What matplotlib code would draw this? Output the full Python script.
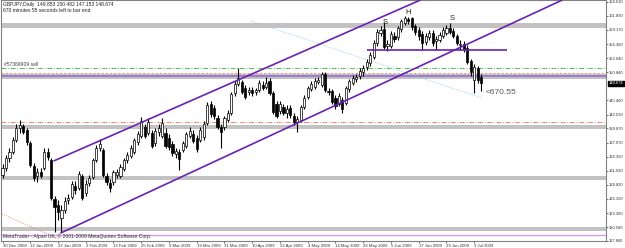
import matplotlib
matplotlib.use("Agg")
import matplotlib.pyplot as plt
import matplotlib.transforms as mtransforms

# ---------------- data ----------------
opens = [130.77,132.14,134.10,135.27,137.62,139.96,140.35,139.57,137.03,132.53,
         130.57,131.36,132.14,135.27,133.70,126.08,124.90,122.36,123.92,125.88,
         126.47,128.62,128.23,130.57,127.25,129.21,130.38,133.70,136.05,135.66,
         130.57,129.21,129.40,130.77,130.57,131.94,133.70,134.49,135.27,137.22,
         138.40,140.16,138.99,138.99,137.03,139.18,138.40,138.99,138.01,136.83,
         134.88,135.27,135.66,136.44,138.40,138.79,138.01,137.62,138.20,140.94,
         144.66,143.88,141.92,140.16,140.16,141.53,142.90,146.81,148.57,148.96,
         147.79,147.00,147.40,147.00,147.40,148.37,147.98,149.16,146.81,144.66,
         143.29,144.07,142.90,143.88,142.31,141.14,141.53,144.07,146.03,147.59,
         147.98,148.96,148.37,150.53,147.20,147.20,145.83,144.66,145.44,144.85,
         147.59,148.77,149.55,150.13,150.92,151.89,152.68,153.85,156.59,158.55,
         159.33,156.00,156.00,157.96,157.76,159.33,160.50,161.28,161.48,159.91,
         159.13,158.35,156.78,157.76,158.55,156.98,157.18,157.96,158.55,159.52,
         158.94,157.96,156.20,156.39,155.61,153.07,149.35,151.70,149.853]
highs = [132.92,134.68,136.05,138.20,140.75,141.53,140.75,139.96,137.42,133.12,
         132.14,132.14,136.05,136.05,134.10,126.66,125.88,124.90,126.47,127.05,
         129.60,129.60,131.55,130.97,129.79,130.77,134.10,136.64,137.81,136.05,
         131.16,129.99,131.75,131.94,132.92,134.10,135.27,136.64,138.01,139.38,
         142.11,140.75,141.92,139.57,139.96,140.75,141.92,139.96,138.79,137.42,
         136.05,135.86,137.42,139.18,140.16,139.57,138.59,140.16,141.33,145.05,
         145.24,144.46,142.51,140.75,142.31,143.48,147.00,149.16,151.70,149.35,
         148.37,147.98,147.98,147.79,149.35,149.16,149.94,149.74,147.20,145.24,
         145.24,144.66,144.46,144.46,142.90,142.31,144.46,146.42,148.18,149.16,
         149.74,149.94,150.92,150.92,147.79,147.59,146.42,146.81,146.03,148.18,
         149.55,150.33,150.53,151.70,152.29,153.46,154.83,157.18,159.33,159.91,
         160.70,157.18,158.94,158.74,159.91,161.28,161.87,161.67,161.67,160.31,
         159.72,158.94,158.55,159.13,159.13,157.96,158.74,159.72,160.11,160.50,
         159.52,158.35,157.18,156.98,156.20,153.46,152.48,152.09,150.482]
lows = [130.18,131.55,133.31,134.88,137.22,138.99,138.79,136.64,132.33,129.60,
        129.40,130.18,131.75,133.70,125.88,119.62,121.97,119.62,123.34,125.10,
        126.08,127.05,127.84,125.88,126.66,128.62,129.99,133.31,135.46,130.38,
        128.81,127.44,128.81,130.18,130.18,131.55,133.12,134.10,134.88,136.64,
        138.01,138.01,138.59,136.05,136.44,138.40,138.01,136.05,135.66,134.49,
        134.10,131.75,135.27,136.05,138.01,137.03,135.27,137.22,137.62,140.55,
        142.11,141.72,139.77,136.05,139.57,141.14,142.51,146.22,148.18,146.61,
        145.64,146.42,146.22,146.42,147.00,147.40,147.59,146.42,142.70,141.92,
        142.70,142.51,141.92,141.92,140.55,139.18,141.14,143.68,145.64,147.20,
        147.59,148.57,147.98,147.00,146.42,144.66,143.68,144.27,142.90,144.46,
        147.00,148.37,148.96,149.55,150.13,151.31,152.09,153.46,156.00,157.96,
        155.42,155.02,155.61,156.78,157.18,158.74,160.11,160.31,159.13,158.15,
        157.18,155.22,156.20,157.18,156.00,155.22,156.78,157.57,158.15,158.35,
        157.57,156.20,155.22,154.83,152.48,150.13,146.81,148.77,147.153]
closes = [132.14,134.10,135.27,137.62,139.96,140.55,139.18,137.22,132.73,130.18,
          131.36,130.57,135.27,134.29,126.27,124.51,123.53,123.92,125.68,126.27,
          129.01,127.84,130.97,126.27,129.01,130.18,133.70,136.05,136.83,130.77,
          129.40,128.23,131.36,131.36,132.33,133.70,134.68,136.05,137.62,138.79,
          141.33,138.40,141.14,136.44,139.38,139.96,140.94,136.44,136.25,135.07,
          135.46,133.90,137.03,138.79,139.38,137.42,135.86,139.57,140.75,144.46,
          142.70,142.31,140.16,139.18,141.92,142.90,146.61,148.57,149.74,147.00,
          146.03,147.40,146.81,147.40,148.77,147.79,148.77,146.81,143.09,142.31,
          144.66,142.90,143.68,142.51,141.14,141.72,144.07,145.83,147.79,148.57,
          149.16,149.35,150.53,147.40,147.00,145.05,144.27,146.22,143.68,147.79,
          149.16,149.74,149.94,151.11,151.70,152.87,154.24,156.59,158.74,159.13,
          155.81,156.39,158.35,157.37,159.52,160.89,161.48,160.89,159.72,158.74,
          157.96,156.59,157.96,158.55,156.59,157.37,158.15,159.13,159.52,158.74,
          157.96,156.59,156.39,155.42,152.87,150.92,151.89,149.35,148.674]

date_labels = ["30 Dec 2008", "12 Jan 2009", "22 Jan 2009", "3 Feb 2009", "13 Feb 2009",
               "25 Feb 2009", "9 Mar 2009", "19 Mar 2009", "31 Mar 2009", "10 Apr 2009",
               "22 Apr 2009", "4 May 2009", "14 May 2009", "26 May 2009", "5 Jun 2009",
               "17 Jun 2009", "29 Jun 2009", "9 Jul 2009"]
date_label_bars = [0, 8, 16, 24, 32, 40, 48, 56, 64, 72, 80, 88, 96, 104, 112, 120, 128, 136]

price_ticks = [164.610, 161.890, 159.170, 156.360, 153.640, 150.840, 145.400, 142.590,
               139.870, 137.070, 134.350, 131.630, 128.820, 126.100, 123.300, 120.580, 117.860]

# support / resistance zones (price ranges)
zones = [(159.5, 160.5), (149.6, 150.6), (139.8, 140.6), (129.8, 130.6), (119.8, 120.6)]

# trend lines: (bar index, price) pairs
channel_upper = [(14.7, 133.5), (120.5, 165.0)]
channel_lower = [(16.7, 119.4), (161.4, 165.0)]
neckline = [(105.2, 155.2), (145.5, 155.2)]
dotted_blue = [(71.5, 160.9), (138.3, 145.8)]
dotted_red = [(-0.6, 123.3), (16.1, 118.3)]

purple_level = 150.13
order_level = 151.70
stop_level = 150.80
red_level = 141.20
pink_level = 118.94

pattern_labels = [("S", 110.4, 159.9), ("H", 117.0, 161.9), ("S", 129.7, 160.7)]
last_price = 148.674

# ---------------- figure ----------------
W, H = 625, 248
AX_R = 606
fig = plt.figure(figsize=(W / 100, H / 100), dpi=100)
fig.patch.set_facecolor("white")
ax = fig.add_axes([0.5 / W, (H - 241) / H, (AX_R - 0.5) / W, 241 / H])
ax.set_facecolor("white")
ax.set_xlim(-0.58, 174.0)
ax.set_ylim(117.86, 165.0)

fam = ["Liberation Sans", "DejaVu Sans"]

# zones
for lo, hi in zones:
    ax.axhspan(lo, hi, color="#c2c2c2", lw=0, zorder=1)

# horizontal levels
ax.axhline(purple_level, color="#9a6fd0", lw=1.2, zorder=2)
ax.axhline(order_level, color="#33bb33", lw=0.6, ls=(0, (6, 2, 1, 2)), zorder=2)
ax.axhline(stop_level, color="#f08a70", lw=0.6, ls=(0, (3, 2)), zorder=2)
ax.axhline(red_level, color="#f07060", lw=0.6, ls=(0, (6, 2, 1, 2)), zorder=2)
ax.axhline(pink_level, color="#d79be8", lw=1.0, zorder=2)

# dotted lines
ax.plot(*zip(*dotted_blue), color="#7fc8e0", lw=0.6, ls=(0, (1, 1.5)), zorder=2)
ax.plot(*zip(*dotted_red), color="#f07060", lw=0.6, ls=(0, (1, 1.5)), zorder=2)

# candles
n = len(closes)
idx = list(range(n))
ax.vlines(idx, lows, highs, color="black", lw=0.8, zorder=3)
for i in idx:
    o, c = opens[i], closes[i]
    bottom = min(o, c)
    height = max(abs(c - o), 0.08)
    ax.bar(i, height, bottom=bottom, width=0.62,
           color="white" if c >= o else "black", edgecolor="black", lw=0.5, zorder=4)

# trend lines
for line in (channel_upper, channel_lower, neckline):
    ax.plot(*zip(*line), color="#6a22b0", lw=1.2, zorder=5, solid_capstyle="butt")

# pattern labels
for t, xi, yp in pattern_labels:
    ax.text(xi, yp, t, fontsize=5.5, ha="center", va="bottom", color="#222222",
            family=fam, zorder=6)

ax.text(139.3, 146.9, "<670.55", fontsize=6, ha="left", va="center", color="#555555",
        family=fam, zorder=6)

# axis styling
for s in ax.spines.values():
    s.set_color("#808080")
    s.set_linewidth(0.8)
ax.yaxis.tick_right()
ax.set_yticks(price_ticks)
ax.set_yticklabels([f"{v:.3f}" for v in price_ticks])
ax.tick_params(axis="y", direction="out", length=1.5, width=0.5, pad=0.6,
               labelsize=3.0, colors="#333333")
ax.set_xticks(date_label_bars)
ax.set_xticklabels(date_labels)
ax.tick_params(axis="x", direction="out", length=1.5, width=0.5, pad=0.5,
               labelsize=3.1, colors="#333333")
for lab in ax.get_xticklabels():
    lab.set_ha("left")
    lab.set_family(fam)
for lab in ax.get_yticklabels():
    lab.set_family(fam)

# current price tag
trans = mtransforms.blended_transform_factory(ax.transAxes, ax.transData)
ax.text(1.0045, last_price, "148.674", transform=trans, fontsize=3.0, color="white",
        ha="left", va="center", family=fam, zorder=10, clip_on=False,
        bbox=dict(boxstyle="square,pad=0.2", fc="black", ec="black"))

# header / footer texts
fig.text(3 / W, 1 - 2 / H, "GBPJPY,Daily  149.853 150.482 147.153 148.674", fontsize=3.6,
         ha="left", va="top", color="#222222", family=fam)
fig.text(3 / W, 1 - 8 / H, "670 minutes 55 seconds left to bar end", fontsize=3.6,
         ha="left", va="top", color="#222222", family=fam)
ax.text(0.006, 151.95, "#57369909 sell", transform=trans, fontsize=3.6,
        ha="left", va="bottom", color="#444444", family=fam)
fig.text(3 / W, 1 - 236 / H, "MetaTrader - Alpari UK, \u00a9 2001-2009 MetaQuotes Software Corp.",
         fontsize=3.6, ha="left", va="center", color="#333333", family=fam)

fig.savefig("out.png", dpi=100)
